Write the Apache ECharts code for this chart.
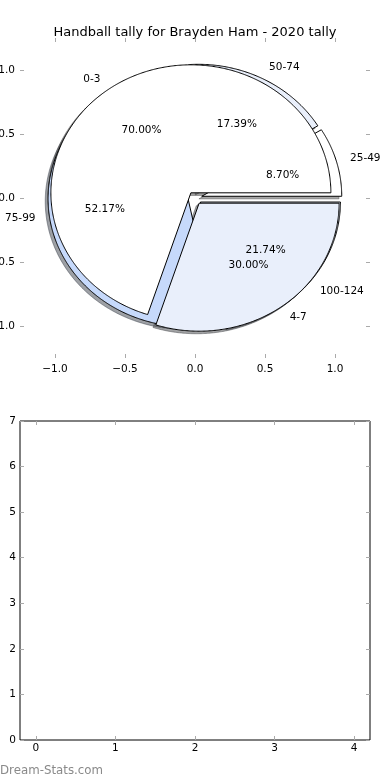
<!DOCTYPE html>
<html>
<head>
<meta charset="utf-8">
<script src="https://cdn.jsdelivr.net/npm/echarts@6/dist/echarts.min.js"></script>
<style>
  html, body { margin: 0; padding: 0; background: #fff; }
  #chart { width: 390px; height: 780px; }
</style>
</head>
<body>
<div id="chart"></div>
<script>
// ---- data ----
const titleText = 'Handball tally for Brayden Ham - 2020 tally';
const pieACategories = ['0-3', '4-7'];
const pieAValues = [7, 3];
const pieBCategories = ['25-49', '50-74', '75-99', '100-124'];
const pieBValues = [2, 4, 12, 5];
const pieAColors = ['#ffffff', '#e9effb'];
const pieBColors = ['#ffffff', '#e9effb', '#c6d9fb', '#e9effb'];
const pieTicks = [-1.0, -0.5, 0.0, 0.5, 1.0];
const lowerXTicks = [0, 1, 2, 3, 4];
const lowerYTicks = [0, 1, 2, 3, 4, 5, 6, 7];
const watermark = 'Dream-Stats.com';

// ---- pie geometry (matplotlib-like: start at 0deg, counter-clockwise) ----
const EXPLODE = 0.05;
const SHADOW_OFF = -0.02;
const LABEL_DIST = 1.1;
const PCT_DIST = 0.6;

function buildWedges(values, colors, cats) {
  const total = values.reduce((a, b) => a + b, 0);
  let acc = 0;
  return values.map((v, i) => {
    const start = acc / total * 2 * Math.PI;
    acc += v;
    const end = acc / total * 2 * Math.PI;
    const mid = (start + end) / 2;
    return { start, end, mid, color: colors[i], cat: cats[i],
             pct: (v / total * 100).toFixed(2) + '%' };
  });
}
const wedgesA = buildWedges(pieAValues, pieAColors, pieACategories);
const wedgesB = buildWedges(pieBValues, pieBColors, pieBCategories);

function wedgePoints(api, w, dx, dy) {
  const cx = EXPLODE * Math.cos(w.mid) + dx;
  const cy = EXPLODE * Math.sin(w.mid) + dy;
  const pts = [api.coord([cx, cy])];
  const n = Math.max(4, Math.ceil((w.end - w.start) / (Math.PI / 360)));
  for (let i = 0; i <= n; i++) {
    const a = w.start + (w.end - w.start) * i / n;
    pts.push(api.coord([cx + Math.cos(a), cy + Math.sin(a)]));
  }
  return pts;
}
function shadowColor(hex) {
  const r = parseInt(hex.slice(1, 3), 16), g = parseInt(hex.slice(3, 5), 16), b = parseInt(hex.slice(5, 7), 16);
  return 'rgba(' + Math.round(r * 0.3) + ',' + Math.round(g * 0.3) + ',' + Math.round(b * 0.3) + ',0.5)';
}
function wedgeSeries(wedges, shadow, z) {
  return {
    type: 'custom', coordinateSystem: 'cartesian2d', xAxisIndex: 0, yAxisIndex: 0,
    z: z, clip: false, silent: true,
    data: wedges.map(() => [0, 0]),
    renderItem: function (params, api) {
      const w = wedges[params.dataIndex];
      if (shadow) {
        const c = shadowColor(w.color);
        return { type: 'polygon', shape: { points: wedgePoints(api, w, SHADOW_OFF, SHADOW_OFF) },
                 style: { fill: c, stroke: c, lineWidth: 1 } };
      }
      return { type: 'polygon', shape: { points: wedgePoints(api, w, 0, 0) },
               style: { fill: w.color, stroke: '#000', lineWidth: 1, lineJoin: 'miter' } };
    }
  };
}
const labelItems = [];
[wedgesB, wedgesA].forEach(ws => ws.forEach(w => {
  const c = Math.cos(w.mid), s = Math.sin(w.mid);
  labelItems.push({ x: (EXPLODE + LABEL_DIST) * c, y: (EXPLODE + LABEL_DIST) * s,
                    text: w.cat, align: c > 0 ? 'left' : 'right' });
  labelItems.push({ x: (EXPLODE + PCT_DIST) * c, y: (EXPLODE + PCT_DIST) * s,
                    text: w.pct, align: 'center' });
}));
const FONT = '"DejaVu Sans", sans-serif';
const labelSeries = {
  type: 'custom', coordinateSystem: 'cartesian2d', xAxisIndex: 0, yAxisIndex: 0,
  z: 10, clip: false, silent: true,
  data: labelItems.map(() => [0, 0]),
  renderItem: function (params, api) {
    const it = labelItems[params.dataIndex];
    const p = api.coord([it.x, it.y]);
    return { type: 'text', x: p[0], y: p[1],
             style: { text: it.text, fill: '#000', font: '10.5px ' + FONT,
                      align: it.align, verticalAlign: 'middle',
                      textAlign: it.align, textVerticalAlign: 'middle' } };
  }
};

function fmt1(v) { return v.toFixed(1).replace('-', '\u2212'); }
const tickStyle = { show: true, inside: true, length: 4, lineStyle: { color: '#aaaaaa', width: 1 } };
const labelStyle = { color: '#000', fontSize: 10.5, fontFamily: FONT };

function axis(type, grid, pos, min, max, ticks, showLabel, margin, formatter) {
  return {
    type: 'value', gridIndex: grid, position: pos, min: min, max: max,
    axisLine: { show: false, onZero: false },
    axisTick: Object.assign({ customValues: ticks }, tickStyle),
    axisLabel: Object.assign({ show: showLabel, customValues: ticks, margin: margin,
                               formatter: formatter, hideOverlap: false }, labelStyle),
    splitLine: { show: false }
  };
}

const option = {
  animation: false,
  backgroundColor: '#fff',
  title: { text: titleText, left: 'center', top: 21,
           textStyle: { fontSize: 13, fontWeight: 'normal', color: '#000', fontFamily: FONT } },
  grid: [
    { left: 20, width: 350, top: 38, height: 320, show: false,
      containLabel: false, outerBoundsMode: 'none' },
    { left: 20, width: 350, top: 421, height: 319, show: true, borderColor: '#000', borderWidth: 1,
      backgroundColor: 'transparent', containLabel: false, outerBoundsMode: 'none' }
  ],
  xAxis: [
    axis('x', 0, 'bottom', -1.25, 1.25, pieTicks, true, 6, fmt1),
    axis('x', 0, 'top', -1.25, 1.25, pieTicks, false, 6, fmt1),
    axis('x', 1, 'bottom', -0.2, 4.2, lowerXTicks, true, 3, v => String(v)),
    axis('x', 1, 'top', -0.2, 4.2, lowerXTicks, false, 3, v => String(v))
  ],
  yAxis: [
    axis('y', 0, 'left', -1.25, 1.25, pieTicks, true, 5, fmt1),
    axis('y', 0, 'right', -1.25, 1.25, pieTicks, false, 5, fmt1),
    axis('y', 1, 'left', 0, 7, lowerYTicks, true, 4, v => String(v)),
    axis('y', 1, 'right', 0, 7, lowerYTicks, false, 4, v => String(v))
  ],
  series: [
    wedgeSeries(wedgesB, true, 1),
    wedgeSeries(wedgesA, true, 1),
    wedgeSeries(wedgesB, false, 3),
    wedgeSeries(wedgesA, false, 4),
    labelSeries
  ],
  graphic: [
    { type: 'text', left: 0, top: 765,
      style: { text: watermark, fill: '#8a8a8a', font: '11.8px ' + FONT } }
  ]
};

const chart = echarts.init(document.getElementById('chart'), null, { renderer: 'canvas' });
chart.setOption(option);
</script>
</body>
</html>
